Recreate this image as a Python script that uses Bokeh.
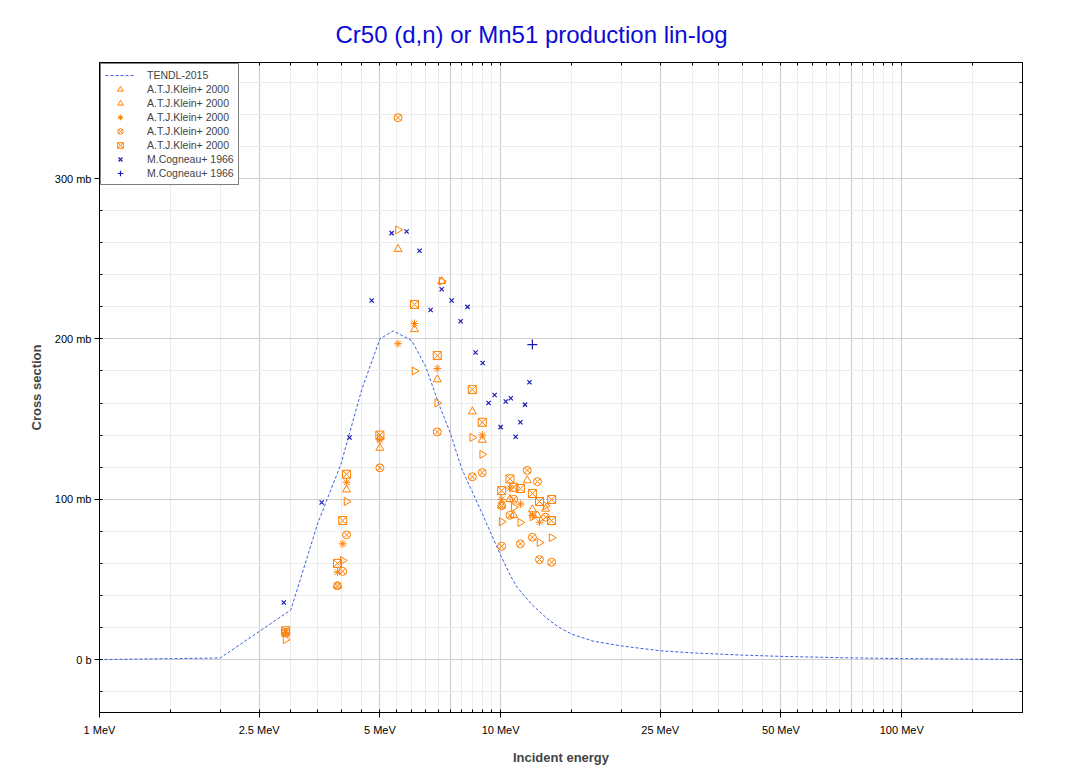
import numpy as np
from bokeh.plotting import figure
from bokeh.models import (Range1d, FixedTicker, LogAxis, LinearAxis, Grid, Legend, LegendItem, LogScale)
from bokeh.embed import file_html
from bokeh.resources import INLINE

# ---------------- data ----------------
tendl_e = [1, 2, 3, 3.5, 4, 4.5, 5, 5.4, 6, 6.5, 7, 7.5, 8, 9, 10, 10.6, 11, 12, 13, 14, 15, 17, 20, 25, 30, 40, 50, 70, 100, 150, 200]
tendl_s = [0, 1, 31, 85, 122, 168, 200, 205, 199, 183, 160, 141, 119, 91, 65, 52, 45, 34, 26, 20, 16, 11.5, 8.5, 5.5, 4.2, 2.8, 2, 1.2, 0.6, 0.3, 0.1]

klein_rt_e = [2.91, 4.04, 4.13, 5.00, 5.55, 6.10, 6.95, 7.13, 8.50, 9.00, 10.06, 10.78, 11.20, 12.00, 12.50, 12.95, 13.40]
klein_rt_s = [12.5, 61.8, 98.6, 138, 268, 180, 160, 236, 138.5, 128, 86, 95, 85.5, 89, 73, 96, 76]

klein_tri_e = [2.91, 3.92, 4.13, 5.00, 5.55, 6.10, 6.95, 7.13, 8.50, 9.00, 10.06, 10.55, 10.78, 11.65, 12.00, 12.35, 12.95]
klein_tri_s = [16, 46, 106, 132, 256, 206, 174.7, 236, 154.7, 137, 96, 100, 90, 111.7, 93.6, 90, 94]

klein_star_e = [2.91, 3.92, 4.04, 4.13, 5.00, 5.55, 6.10, 6.95, 9.00, 10.06, 10.55, 11.20, 12.00, 12.50]
klein_star_s = [17, 54.5, 72.2, 110.6, 137, 197, 209.6, 181.5, 140, 100, 107, 97, 90, 85.7]

klein_cx_e = [2.91, 3.92, 4.04, 4.13, 5.00, 5.55, 6.95, 8.50, 9.00, 10.06, 10.06, 10.55, 10.78, 11.20, 11.65, 12.00, 12.35, 12.50, 12.95, 13.40]
klein_cx_s = [17, 46, 55, 77.8, 119.6, 338, 142, 114, 116.6, 70.7, 96, 90, 100, 72.2, 118, 76.3, 111, 62.4, 88.8, 60.7]

klein_bx_e = [2.91, 3.92, 4.04, 4.13, 5.00, 6.10, 6.95, 8.50, 9.00, 10.06, 10.55, 10.78, 11.20, 12.00, 12.50, 13.40, 13.40]
klein_bx_s = [18, 60, 86.7, 115.6, 140, 221.5, 189.6, 168.4, 148, 105.4, 112.7, 107.5, 106.7, 103.6, 98.6, 99.8, 86.7]

cog_x_e = [2.88, 3.58, 4.20, 4.77, 5.35, 5.83, 6.28, 6.69, 7.13, 7.55, 7.95, 8.27, 8.66, 9.02, 9.33, 9.66, 10.0, 10.3, 10.6, 10.9, 11.2, 11.5, 11.8]
cog_x_s = [35.6, 98, 138.5, 224, 266, 267, 255, 218, 231, 224, 211, 220, 191.5, 185, 160, 165, 145, 161, 163, 139, 148, 159, 173]

cog_p_e = [12.0]
cog_p_s = [196.5]

x_major = [1, 2.5, 5, 10, 25, 50, 100]
x_major_labels = ["1 MeV", "2.5 MeV", "5 MeV", "10 MeV", "25 MeV", "50 MeV", "100 MeV"]
x_minor = [1.5, 2, 3, 3.5, 4, 4.5, 5.5, 6, 6.5, 7, 7.5, 8, 8.5, 9, 9.5,
           15, 20, 30, 35, 40, 45, 55, 60, 65, 70, 75, 80, 85, 90, 95, 150, 200]
x_dark_grid = [2.5, 5, 7.5, 10, 25, 50, 75, 100]
y_major = [0, 100, 200, 300]
y_major_labels = ["0 b", "100 mb", "200 mb", "300 mb"]
y_minor = [-20, 20, 40, 60, 80, 120, 140, 160, 180, 220, 240, 260, 280, 320, 340, 360]

# ---------------- figure ----------------
FONT = "Liberation Sans"
ORANGE = "#ff7f00"
BLUE = "#1c1cb4"
LINEBLUE = "#3a5fe0"

p = figure(width=1048, height=770, x_axis_type=None, y_axis_type=None,
           x_range=Range1d(1, 200), y_range=Range1d(-33, 372.4),
           output_backend="svg", toolbar_location=None,
           min_border_left=99, min_border_right=26, min_border_top=62, min_border_bottom=58)
p.x_scale = LogScale()

p.title.text = "Cr50 (d,n) or Mn51 production lin-log"
p.title.align = "left"
p.title.offset = 236
p.title.text_font = FONT
p.title.text_font_size = "24px"
p.title.text_font_style = "normal"
p.title.text_color = "#0b0bd6"
p.title.standoff = 29

p.outline_line_color = "black"
p.outline_line_width = 1
p.background_fill_color = "white"
p.border_fill_color = "white"

xt = FixedTicker(ticks=x_major, minor_ticks=x_minor)
yt = FixedTicker(ticks=y_major, minor_ticks=y_minor)

def style_axis(ax):
    ax.axis_line_color = "black"
    ax.major_tick_line_color = "black"
    ax.minor_tick_line_color = "black"
    ax.major_tick_in = 3
    ax.major_tick_out = 5
    ax.minor_tick_in = 3
    ax.minor_tick_out = 0
    ax.major_label_text_font = FONT
    ax.major_label_text_font_size = "11px"
    ax.major_label_text_color = "black"
    ax.axis_label_text_font = FONT
    ax.axis_label_text_font_size = "13px"
    ax.axis_label_text_font_style = "bold"

xb = LogAxis(ticker=xt, axis_label="Incident energy")
xb.major_label_overrides = {v: l for v, l in zip(x_major, x_major_labels)}
style_axis(xb)
xb.major_label_standoff = 6
xb.axis_label_standoff = 11
p.add_layout(xb, "below")

yl = LinearAxis(ticker=yt, axis_label="Cross section")
yl.major_label_overrides = {v: l for v, l in zip(y_major, y_major_labels)}
style_axis(yl)
yl.major_label_standoff = 3
yl.axis_label_standoff = 8
p.add_layout(yl, "left")

# top / right frame ticks (no labels): all ticks as minor ticks pointing inward
xa = LogAxis(ticker=FixedTicker(ticks=[], minor_ticks=sorted(x_major + x_minor)))
style_axis(xa)
p.add_layout(xa, "above")
yr = LinearAxis(ticker=FixedTicker(ticks=[], minor_ticks=sorted(y_major + y_minor)))
style_axis(yr)
p.add_layout(yr, "right")

# grids
p.add_layout(Grid(dimension=0, ticker=FixedTicker(ticks=x_minor), grid_line_color="#ececec", grid_line_width=1))
p.add_layout(Grid(dimension=0, ticker=FixedTicker(ticks=x_dark_grid), grid_line_color="#cfcfcf", grid_line_width=1.2))
p.add_layout(Grid(dimension=1, ticker=FixedTicker(ticks=y_minor), grid_line_color="#ececec", grid_line_width=1))
p.add_layout(Grid(dimension=1, ticker=FixedTicker(ticks=y_major), grid_line_color="#cfcfcf", grid_line_width=1.2))

# ---------------- glyphs ----------------
r_tendl = p.line(tendl_e, tendl_s, line_color=LINEBLUE, line_width=1, line_dash="3 2")
MS = 8
r1 = p.scatter(klein_rt_e, klein_rt_s, marker="triangle", angle=-np.pi / 2, size=MS,
               line_color=ORANGE, fill_color=None, line_width=1)
r2 = p.scatter(klein_tri_e, klein_tri_s, marker="triangle", size=MS,
               line_color=ORANGE, fill_color=None, line_width=1)
r3 = p.scatter(klein_star_e, klein_star_s, marker="asterisk", size=MS,
               line_color=ORANGE, fill_color=None, line_width=1)
r4 = p.scatter(klein_cx_e, klein_cx_s, marker="circle_x", size=MS,
               line_color=ORANGE, fill_color=None, line_width=1)
r5 = p.scatter(klein_bx_e, klein_bx_s, marker="square_x", size=MS,
               line_color=ORANGE, fill_color=None, line_width=1)
r6 = p.scatter(cog_x_e, cog_x_s, marker="x", size=6, line_color=BLUE, line_width=1.2)
r7 = p.scatter(cog_p_e, cog_p_s, marker="cross", size=10, line_color=BLUE, line_width=1.2)

legend = Legend(items=[
    LegendItem(label="TENDL-2015", renderers=[r_tendl]),
    LegendItem(label="A.T.J.Klein+ 2000", renderers=[r1]),
    LegendItem(label="A.T.J.Klein+ 2000", renderers=[r2]),
    LegendItem(label="A.T.J.Klein+ 2000", renderers=[r3]),
    LegendItem(label="A.T.J.Klein+ 2000", renderers=[r4]),
    LegendItem(label="A.T.J.Klein+ 2000", renderers=[r5]),
    LegendItem(label="M.Cogneau+ 1966", renderers=[r6]),
    LegendItem(label="M.Cogneau+ 1966", renderers=[r7]),
], location="top_left")
legend.margin = 1
legend.padding = 4
legend.spacing = 0
legend.glyph_height = 14
legend.glyph_width = 30
legend.label_height = 14
legend.label_standoff = 12
legend.label_text_font = FONT
legend.label_text_font_size = "10.5px"
legend.border_line_color = "black"
legend.border_line_width = 1
legend.background_fill_color = "white"
legend.background_fill_alpha = 1
p.add_layout(legend, "center")

open("out.html", "w").write(file_html(p, INLINE))
